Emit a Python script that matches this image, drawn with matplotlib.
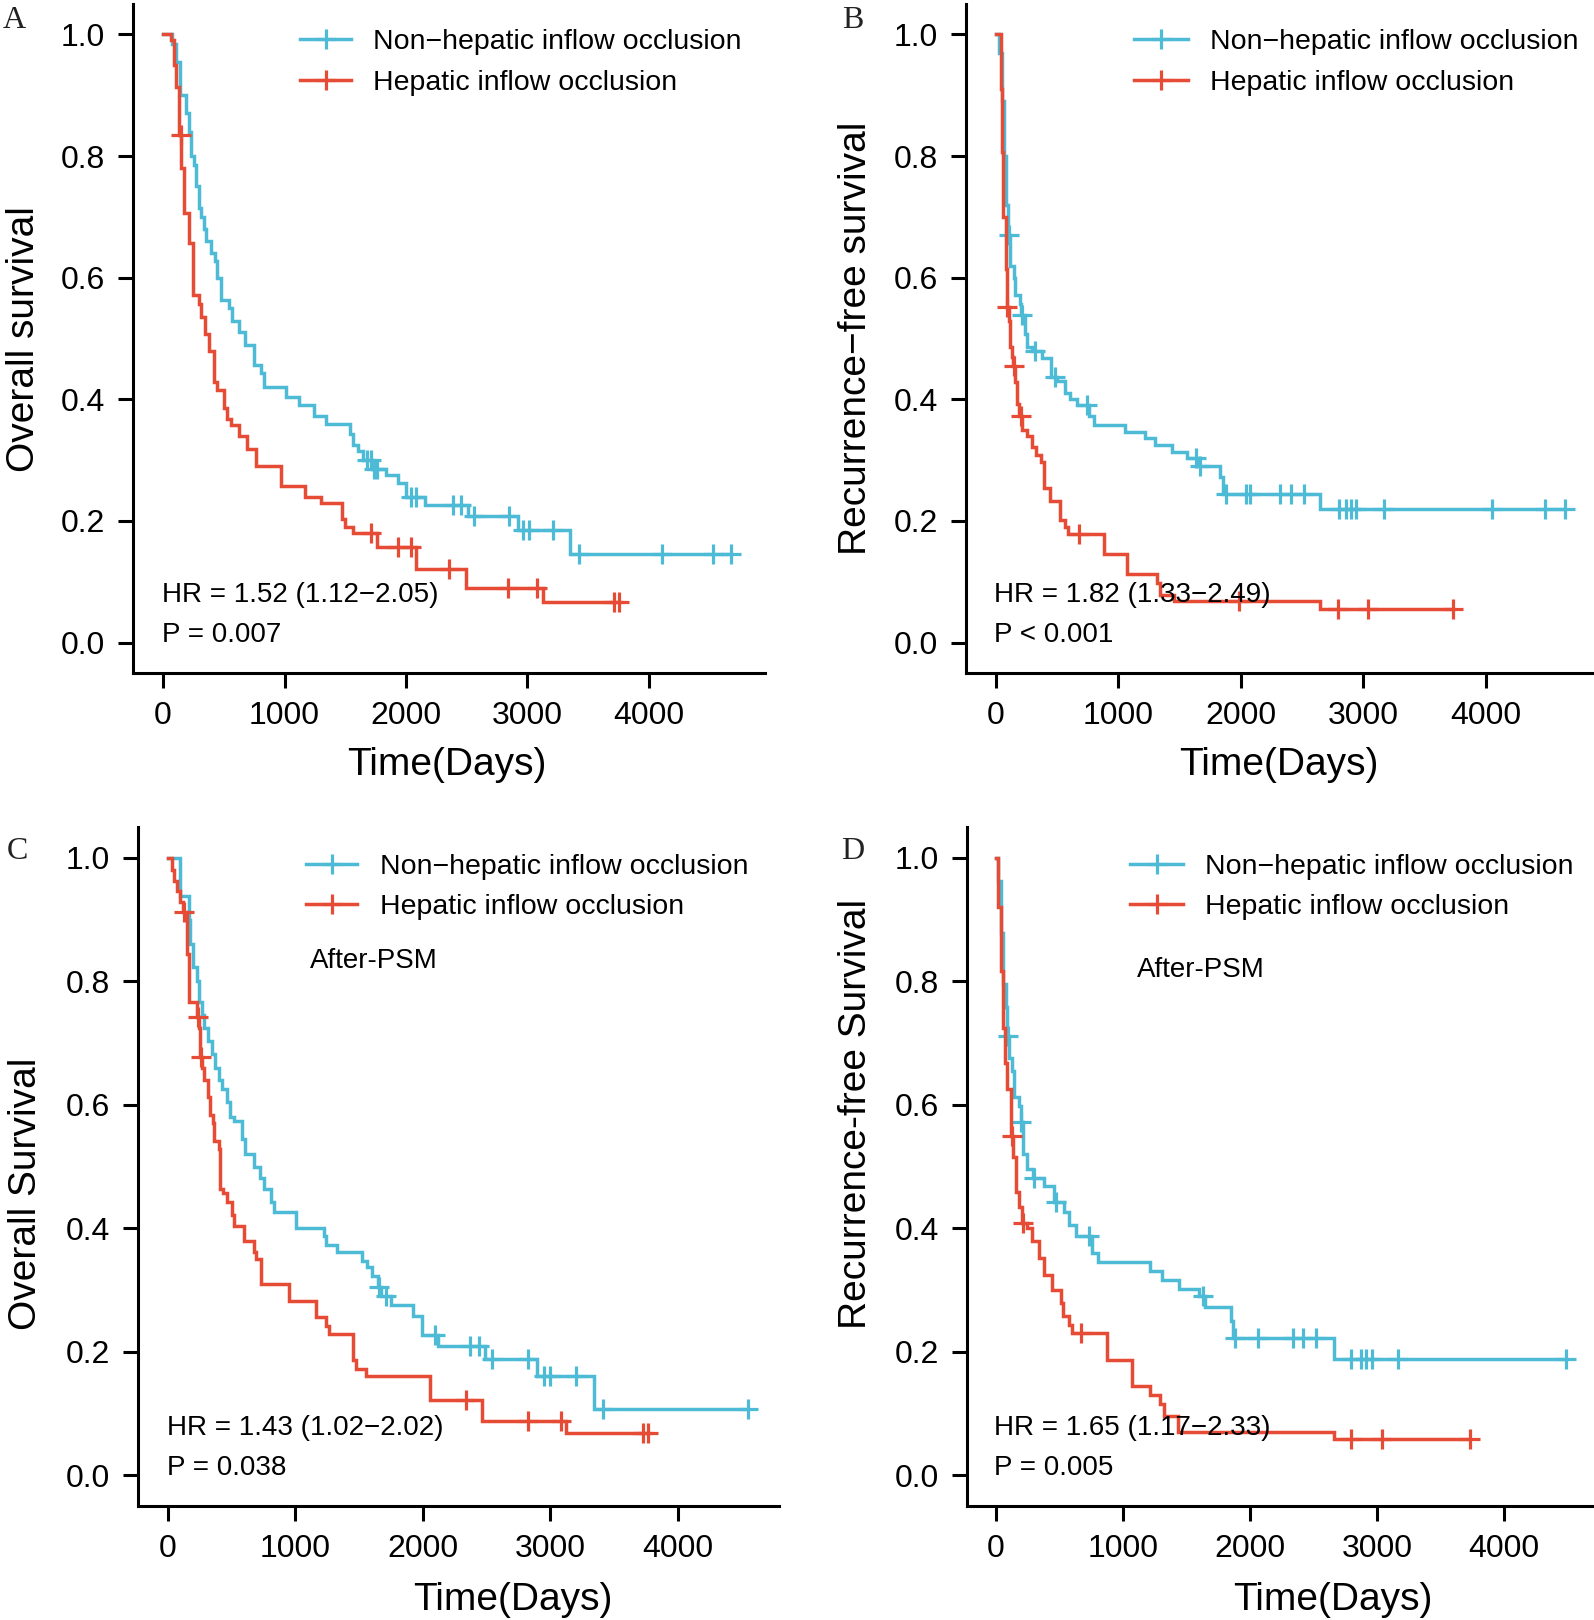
import numpy as np
import matplotlib
matplotlib.use("Agg")
import matplotlib.pyplot as plt
from matplotlib.lines import Line2D

plt.rcParams['font.family'] = ['Liberation Sans', 'DejaVu Sans']

BLUE = '#4DBBD5'
RED = '#E64B35'
W, H = 1594, 1620

# ---- data ----
# Panel A: overall survival
a_non_t = [0, 70, 110, 140, 193, 213, 234, 254, 275, 295, 316, 336, 357, 398, 431, 447, 480, 542, 570, 624,
           673, 747, 808, 829, 1013, 1116, 1239, 1342, 1538, 1567, 1608, 1650, 1720, 1834, 1936, 1998, 2154,
           2511, 2921, 3350]
a_non_s = [1.0, 0.985, 0.955, 0.90, 0.87, 0.84, 0.80, 0.785, 0.75, 0.714, 0.70, 0.68, 0.66, 0.64, 0.628, 0.60,
           0.564, 0.55, 0.528, 0.51, 0.49, 0.457, 0.443, 0.42, 0.404, 0.39, 0.372, 0.36, 0.343, 0.325, 0.315,
           0.30, 0.285, 0.275, 0.262, 0.24, 0.226, 0.208, 0.185, 0.145]
a_non_c = [1680, 1710, 1740, 1760, 2039, 2080, 2388, 2449, 2560, 2851, 2962, 3015, 3210, 3420, 4107, 4530, 4675]

a_hep_t = [0, 62, 90, 111, 131, 152, 172, 213, 246, 295, 316, 345, 377, 418, 447, 500, 529, 562, 624, 693,
           767, 972, 1169, 1301, 1477, 1497, 1567, 1760, 2080, 2490, 3130]
a_hep_s = [1.0, 0.99, 0.95, 0.913, 0.835, 0.78, 0.707, 0.657, 0.571, 0.557, 0.536, 0.507, 0.479, 0.429, 0.415,
           0.386, 0.368, 0.358, 0.34, 0.318, 0.29, 0.258, 0.24, 0.229, 0.204, 0.19, 0.18, 0.157, 0.121, 0.089,
           0.066]
a_hep_c = [144, 1711, 1936, 2039, 2355, 2840, 3080, 3710, 3750]

# Panel B: recurrence-free survival
b_non_t = [0, 28, 49, 69, 82, 98, 118, 143, 159, 192, 205, 233, 254, 293, 375, 449, 498, 560, 601, 662, 763,
           804, 1049, 1213, 1295, 1437, 1560, 1648, 1825, 1850, 2643]
b_non_s = [1.0, 0.97, 0.89, 0.80, 0.72, 0.67, 0.62, 0.60, 0.571, 0.557, 0.538, 0.507, 0.486, 0.479, 0.468, 0.436,
           0.43, 0.41, 0.40, 0.39, 0.372, 0.357, 0.347, 0.336, 0.325, 0.313, 0.304, 0.29, 0.272, 0.245, 0.22]
b_non_c = [110, 213, 315, 478, 743, 1633, 1662, 1880, 2040, 2070, 2318, 2411, 2513, 2799, 2858, 2900, 2942,
           3170, 4049, 4486, 4647]

b_hep_t = [0, 37, 49, 61, 78, 86, 102, 118, 131, 137, 151, 172, 190, 213, 254, 294, 323, 364, 388, 437, 519,
           560, 585, 878, 1070, 1315, 1336, 1450, 2643]
b_hep_s = [1.0, 0.91, 0.806, 0.70, 0.614, 0.552, 0.528, 0.486, 0.47, 0.454, 0.429, 0.393, 0.372, 0.35, 0.34,
           0.322, 0.308, 0.297, 0.254, 0.233, 0.201, 0.19, 0.179, 0.146, 0.112, 0.098, 0.078, 0.068, 0.055]
b_hep_c = [90, 143, 200, 674, 1981, 2789, 3034, 3727]

# Panel C: overall survival after PSM
c_non_t = [0, 97, 167, 175, 199, 226, 246, 265, 284, 316, 343, 370, 402, 421, 460, 487, 519, 577, 604, 674,
           721, 752, 811, 831, 1006, 1220, 1240, 1326, 1524, 1563, 1602, 1648, 1673, 1746, 1922, 1992, 2117,
           2487, 2896, 3344]
c_non_s = [1.0, 0.939, 0.90, 0.86, 0.823, 0.80, 0.767, 0.745, 0.724, 0.703, 0.682, 0.66, 0.64, 0.625, 0.604,
           0.58, 0.573, 0.545, 0.52, 0.50, 0.482, 0.464, 0.443, 0.426, 0.40, 0.387, 0.373, 0.362, 0.347, 0.337,
           0.323, 0.305, 0.29, 0.275, 0.258, 0.227, 0.21, 0.188, 0.161, 0.107]
c_non_c = [1658, 1713, 2097, 2370, 2436, 2545, 2825, 2946, 2994, 3200, 3415, 4550]

c_hep_t = [0, 31, 50, 74, 97, 119, 149, 167, 228, 246, 252, 265, 284, 316, 332, 354, 362, 402, 409, 433, 460,
           499, 519, 596, 674, 694, 733, 947, 1161, 1240, 1259, 1454, 1473, 1551, 2058, 2459, 3122]
c_hep_s = [1.0, 0.98, 0.963, 0.946, 0.928, 0.912, 0.844, 0.767, 0.743, 0.724, 0.677, 0.66, 0.64, 0.612, 0.584,
           0.57, 0.542, 0.528, 0.464, 0.457, 0.443, 0.422, 0.404, 0.38, 0.362, 0.35, 0.309, 0.282, 0.256, 0.242,
           0.228, 0.186, 0.172, 0.161, 0.121, 0.088, 0.069]
c_hep_c = [129, 238, 257, 2338, 2825, 3079, 3722, 3765]

# Panel D: recurrence-free survival after PSM
d_non_t = [0, 16, 36, 56, 76, 84, 90, 104, 127, 143, 183, 195, 215, 247, 290, 382, 454, 534, 574, 633, 753,
           805, 1211, 1311, 1442, 1600, 1649, 1849, 1869, 2665]
d_non_s = [1.0, 0.963, 0.879, 0.795, 0.759, 0.724, 0.712, 0.675, 0.654, 0.612, 0.598, 0.572, 0.52, 0.496, 0.482,
           0.468, 0.443, 0.426, 0.405, 0.387, 0.36, 0.346, 0.33, 0.316, 0.302, 0.29, 0.272, 0.25, 0.222, 0.188]
d_non_c = [96, 199, 303, 474, 733, 1629, 1880, 2060, 2335, 2414, 2518, 2797, 2876, 2916, 2964, 3163, 4486]

d_hep_t = [0, 16, 36, 56, 68, 88, 120, 135, 155, 183, 205, 247, 287, 335, 382, 442, 514, 526, 574, 602, 873,
           1072, 1211, 1291, 1323, 1430, 2665]
d_hep_s = [1.0, 0.921, 0.816, 0.724, 0.668, 0.626, 0.55, 0.515, 0.459, 0.435, 0.409, 0.40, 0.38, 0.352, 0.324,
           0.30, 0.279, 0.258, 0.243, 0.23, 0.186, 0.144, 0.13, 0.116, 0.095, 0.07, 0.058]
d_hep_c = [127, 215, 673, 2797, 3036, 3729]

legend_labels = ['Non\u2212hepatic inflow occlusion', 'Hepatic inflow occlusion']
x_ticks = [0, 1000, 2000, 3000, 4000]
y_ticks = [0.0, 0.2, 0.4, 0.6, 0.8, 1.0]

panels = [
    dict(box=(133, 765, 4, 673), xlim=(-247, 4955), letter='A', letter_xy=(14, 18),
         ylabel='Overall survival', ylab_xy=(21, 339), xlab_xy=(447, 762),
         leg=(300, 351, 373, 39, 80), hr='HR = 1.52 (1.12\u22122.05)', p='P = 0.007',
         hr_xy=(162, 592, 632), psm=None,
         curves=[(a_non_t, a_non_s, a_non_c, BLUE), (a_hep_t, a_hep_s, a_hep_c, RED)]),
    dict(box=(966, 1594, 4, 673), xlim=(-245, 4882), letter='B', letter_xy=(853, 18),
         ylabel='Recurrence\u2212free survival', ylab_xy=(853, 338), xlab_xy=(1279, 762),
         leg=(1134, 1188, 1210, 39, 80), hr='HR = 1.82 (1.33\u22122.49)', p='P < 0.001',
         hr_xy=(994, 592, 632), psm=None,
         curves=[(b_non_t, b_non_s, b_non_c, BLUE), (b_hep_t, b_hep_s, b_hep_c, RED)]),
    dict(box=(138, 779, 827, 1506), xlim=(-235, 4792), letter='C', letter_xy=(17, 849),
         ylabel='Overall Survival', ylab_xy=(23, 1194), xlab_xy=(513, 1597),
         leg=(306, 357, 380, 864, 904), hr='HR = 1.43 (1.02\u22122.02)', p='P = 0.038',
         hr_xy=(167, 1425, 1465), psm=(310, 958),
         curves=[(c_non_t, c_non_s, c_non_c, BLUE), (c_hep_t, c_hep_s, c_hep_c, RED)]),
    dict(box=(967, 1594, 827, 1506), xlim=(-228, 4709), letter='D', letter_xy=(853, 849),
         ylabel='Recurrence-free Survival', ylab_xy=(853, 1114), xlab_xy=(1333, 1597),
         leg=(1130, 1183, 1205, 864, 904), hr='HR = 1.65 (1.17\u22122.33)', p='P = 0.005',
         hr_xy=(994, 1425, 1465), psm=(1137, 967),
         curves=[(d_non_t, d_non_s, d_non_c, BLUE), (d_hep_t, d_hep_s, d_hep_c, RED)]),
]

LW = 2.5
MS = 14
MEW = 2.3

fig = plt.figure(figsize=(W / 100, H / 100), dpi=100)


def ptext(x, y, s, rotation=0, **kw):
    # pixel position of the visual centre; nudge for descender space in the bbox
    if rotation:
        x += 3
    else:
        y += 3
    fig.text(x / W, 1 - y / H, s, rotation=rotation, **kw)


for p in panels:
    l, r, t, b = p['box']
    ax = fig.add_axes([l / W, 1 - b / H, (r - l) / W, (b - t) / H])
    for times, surv, cens, col in p['curves']:
        times = np.array(times, dtype=float)
        surv = np.array(surv)
        cens = np.array(cens, dtype=float)
        end = max(times.max(), cens.max())
        ax.step(np.append(times, end), np.append(surv, surv[-1]), where='post',
                color=col, lw=LW, solid_joinstyle='miter')
        idx = np.searchsorted(times, cens, side='right') - 1
        ax.plot(cens, surv[idx], ls='none', marker='+', ms=MS, mew=MEW, color=col)

    ax.set_xlim(*p['xlim'])
    ax.set_ylim(-0.05, 1.05)
    ax.set_xticks(x_ticks)
    ax.set_yticks(y_ticks)
    ax.set_yticklabels([f'{v:.1f}' for v in y_ticks])
    for s in ['top', 'right']:
        ax.spines[s].set_visible(False)
    for s in ['left', 'bottom']:
        ax.spines[s].set_linewidth(2.2)
    ax.tick_params(axis='both', length=11, width=2.2, labelsize=23, pad=9, colors='black')
    ax.patch.set_visible(False)

    lx, ly = p['letter_xy']
    fig.text(lx / W, 1 - (ly + 2) / H, p['letter'], family=['Liberation Serif', 'DejaVu Serif'],
             fontsize=23, ha='center', va='center', color='#222222')
    ptext(*p['ylab_xy'], p['ylabel'], fontsize=28, rotation=90, ha='center', va='center')
    ptext(*p['xlab_xy'], 'Time(Days)', fontsize=28, ha='center', va='center')

    x1, x2, xt, y1, y2 = p['leg']
    for yy, col, lab in [(y1, BLUE, legend_labels[0]), (y2, RED, legend_labels[1])]:
        fig.add_artist(Line2D([x1 / W, x2 / W], [1 - yy / H] * 2, transform=fig.transFigure,
                              color=col, lw=LW))
        fig.add_artist(Line2D([(x1 + x2) / 2 / W], [1 - yy / H], transform=fig.transFigure,
                              color=col, marker='+', ms=MS, mew=MEW, ls='none'))
        ptext(xt, yy, lab, fontsize=20.5, ha='left', va='center')

    hx, hy, py = p['hr_xy']
    ptext(hx, hy, p['hr'], fontsize=20, ha='left', va='center')
    ptext(hx, py, p['p'], fontsize=20, ha='left', va='center')
    if p['psm']:
        ptext(*p['psm'], 'After-PSM', fontsize=20, ha='left', va='center')

fig.savefig('out.png', dpi=100, facecolor='white')
